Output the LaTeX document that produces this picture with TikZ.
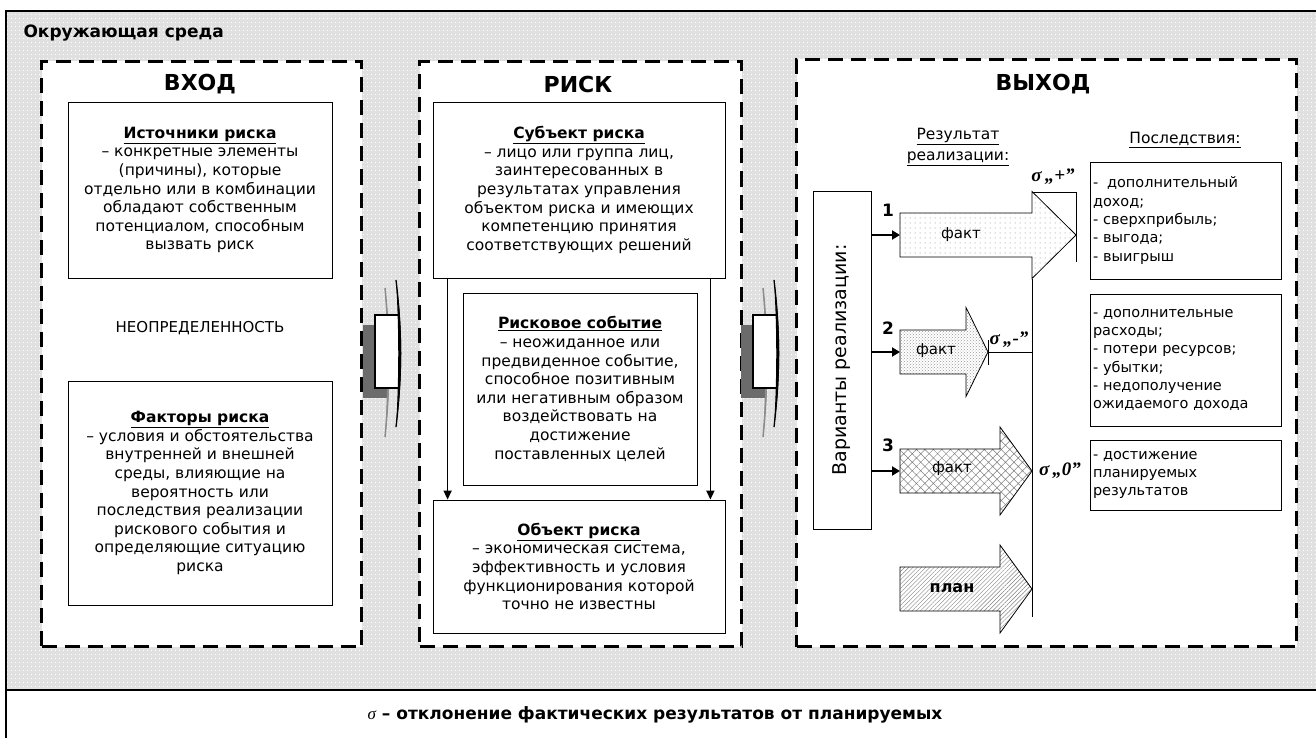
\documentclass[tikz,border=0pt]{standalone}
\usepackage{fontspec}
\setmainfont{DejaVu Sans}
\newfontfamily\sigf{Liberation Serif}
\usetikzlibrary{patterns,patterns.meta,arrows.meta}
\newcommand\blockarr[7]{\draw[line width=0.8pt,preaction={fill=white},#7] (#1,{#4-#5}) -- (#2,{#4-#5}) -- (#2,{#4-#6}) -- (#3,#4) -- (#2,{#4+#6}) -- (#2,{#4+#5}) -- (#1,{#4+#5}) -- cycle;}
\newcommand\linkarr[1]{%
\begin{scope}[xshift=#1]
\fill[black!58] (363,325) rectangle (388,398);
\fill[black!45] (385,288) .. controls (391,338) and (391,387) .. (385,437) .. controls (388,387) and (388,338) .. (385,288);
\draw[black!45,line width=1.5pt] (385,288) .. controls (390,338) and (390,387) .. (385,437);
\fill[white] (375,315) rectangle (398,388);
\draw[line width=1.3pt] (398,315) -- (375,315) -- (375,388) -- (398,388);
\fill[black] (396,280) .. controls (403,330) and (403,377) .. (396,427) .. controls (399,377) and (399,330) .. (396,280);
\draw[line width=1.3pt] (396,280) .. controls (402,330) and (402,377) .. (396,427);
\end{scope}}
\begin{document}
\begin{tikzpicture}[x=1pt,y=-1pt,
  dbox/.style={draw,line width=3pt,dash pattern=on 15pt off 8pt,fill=white,inner sep=0pt,anchor=north west},
  tbox/.style={draw,line width=0.8pt,fill=white,align=center,inner sep=2pt,font=\fontsize{15.5}{18.6}\selectfont},
  cbox/.style={draw,line width=0.8pt,fill=white,align=left,inner xsep=3pt,text width=185pt,minimum width=191pt,font=\fontsize{14.5}{18.3}\selectfont},
  ttl/.style={font=\bfseries\fontsize{22}{26}\selectfont},
  sarr/.style={line width=2.2pt,-{Triangle[length=8pt,width=9pt]}},
  varr/.style={line width=1.6pt,-{Triangle[length=9pt,width=8pt]}},
  sig/.style={font=\sigf\bfseries\itshape\fontsize{19}{22}\selectfont},
  num/.style={font=\bfseries\fontsize{17}{20}\selectfont},
  lbl/.style={font=\fontsize{15}{18}\selectfont}
]
\useasboundingbox (0,0) rectangle (1316,738);
\fill[white] (0,0) rectangle (1316,738);
\fill[gray!24] (6,11) rectangle (1316,690);
\fill[pattern={Dots[distance=4pt,radius=0.7pt]},pattern color=white] (6,11) rectangle (1316,690);
\draw[line width=2.5pt] (1316,11) -- (6,11) -- (6,738);
\draw[line width=2pt] (6,690) -- (1316,690);

\node[font=\bfseries\fontsize{17}{20}\selectfont,anchor=west] (env) at (20,33) {Окружающая среда};

% dashed sections
\node[dbox,minimum width=320pt,minimum height=585pt] (vhod) at (40,60) {};
\node[dbox,minimum width=322pt,minimum height=585pt] (risk) at (418,60) {};
\node[dbox,minimum width=500pt,minimum height=587pt] (vyhod) at (795,58) {};

\node[ttl] (tvhod) at (200,84) {ВХОД};
\node[ttl] (trisk) at (578,84) {РИСК};
\node[ttl] (tvyhod) at (1043,84) {ВЫХОД};

% ВХОД
\node[tbox,minimum width=264pt,minimum height=176pt] (src) at (200,190)
 {\textbf{\underline{Источники риска}}\\– конкретные элементы\\(причины), которые\\отдельно или в комбинации\\обладают собственным\\потенциалом, способным\\вызвать риск};
\node[font=\fontsize{15}{18}\selectfont] (unc) at (200,328) {НЕОПРЕДЕЛЕННОСТЬ};
\node[tbox,minimum width=264pt,minimum height=224pt] (fact) at (200,493)
 {\textbf{\underline{Факторы риска}}\\– условия и обстоятельства\\внутренней и внешней\\среды, влияющие на\\вероятность или\\последствия реализации\\рискового события и\\определяющие ситуацию\\риска};

% РИСК
\node[tbox,minimum width=292pt,minimum height=176pt] (subj) at (579,190)
 {\textbf{\underline{Субъект риска}}\\– лицо или группа лиц,\\заинтересованных в\\результатах управления\\объектом риска и имеющих\\компетенцию принятия\\соответствующих решений};
\node[tbox,minimum width=234pt,minimum height=192pt] (event) at (580,389)
 {\textbf{\underline{Рисковое событие}}\\– неожиданное или\\предвиденное событие,\\способное позитивным\\или негативным образом\\воздействовать на\\достижение\\поставленных целей};
\node[tbox,minimum width=292pt,minimum height=133pt] (obj) at (579,566.5)
 {\textbf{\underline{Объект риска}}\\– экономическая система,\\эффективность и условия\\функционирования которой\\точно не известны};
\draw[varr] ([xshift=15pt]subj.south west) -- ([xshift=15pt]obj.north west);
\draw[varr] ([xshift=-15pt]subj.south east) -- ([xshift=-15pt]obj.north east);

% link arrows
\linkarr{0pt}
\linkarr{378pt}

% ВЫХОД
\node[font=\fontsize{15.5}{21}\selectfont,align=center] (res) at (958,147) {\underline{Результат}\\\underline{реализации:}};
\node[font=\fontsize{15.5}{19}\selectfont] (cons) at (1185,140) {\underline{Последствия:}};

\node[draw,line width=0.8pt,fill=white,minimum width=58pt,minimum height=338pt] (var) at (842,360) {};
\node[rotate=90,font=\fontsize{19}{22}\selectfont] (vartxt) at (var.center) {Варианты реализации:};

\draw[line width=0.8pt] (1032,279) -- (1032,617);
\draw[line width=0.8pt] (1032,192) -- (1076,192) -- (1076,262);
\draw[line width=0.8pt] (988,340) -- (988,365) (988,352) -- (1032,352);

\blockarr{900}{1032}{1076}{235}{22}{43.5}{pattern={Dots[distance=5pt,radius=0.5pt]},pattern color=gray}
\blockarr{900}{966}{988}{352}{22}{44.5}{pattern=crosshatch dots,pattern color=gray!80}
\blockarr{900}{1000}{1032}{471}{22}{44}{pattern={Hatch[angle=45,distance=6pt,line width=0.5pt]},pattern color=gray}
\blockarr{900}{1000}{1032}{589}{22}{44}{pattern={Lines[angle=45,distance=3pt,line width=0.4pt]},pattern color=gray}

\coordinate (a1) at (900,235);
\coordinate (a2) at (900,352);
\coordinate (a3) at (900,471);
\draw[sarr] (var.east |- a1) -- (a1);
\draw[sarr] (var.east |- a2) -- (a2);
\draw[sarr] (var.east |- a3) -- (a3);
\node[num] (n1) at (888,210) {1};
\node[num] (n2) at (888,328) {2};
\node[num] (n3) at (888,445) {3};

\node[lbl] (f1) at (961,235) {факт};
\node[lbl] (f2) at (936,351) {факт};
\node[lbl] (f3) at (952,469) {факт};
\node[font=\bfseries\fontsize{16}{19}\selectfont] (plan) at (952,588) {план};

\node[sig] (s1) at (1053,177) {σ\,„+”};
\node[sig] (s2) at (1009,340) {σ\,„-”};
\node[sig] (s3) at (1060,471) {σ\,„0”};

\node[cbox,minimum height=117pt] (c1) at (1185.5,220.5) {-\; дополнительный\\доход;\\- сверхприбыль;\\- выгода;\\- выигрыш};
\node[cbox,minimum height=132pt] (c2) at (1185.5,360) {- дополнительные\\расходы;\\- потери ресурсов;\\- убытки;\\- недополучение\\ожидаемого дохода};
\node[cbox,minimum height=70pt] (c3) at (1185.5,475) {- достижение\\планируемых\\результатов};

\node[font=\fontsize{17}{20}\selectfont] (cap) at (655,715) {{\sigf\itshape σ} \textbf{– отклонение фактических результатов от планируемых}};
\end{tikzpicture}
\end{document}
